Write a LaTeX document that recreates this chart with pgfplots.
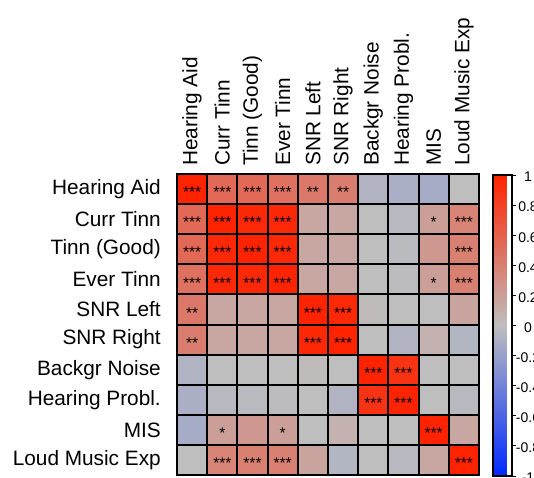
\documentclass[border=0pt]{standalone}
\usepackage{fontspec}
\setmainfont{Liberation Sans}
\usepackage{pgfplots}
\pgfplotsset{compat=1.18}
\pgfplotsset{colormap={corr}{rgb255(0cm)=(0,40,255); rgb255(1cm)=(190,190,190); rgb255(2cm)=(255,35,0)}}
\begin{document}
\begin{tikzpicture}
\begin{axis}[
  at={(177pt,2pt)}, anchor=south west,
  scale only axis, width=302pt, height=301pt,
  xmin=-0.5, xmax=9.5, ymin=-0.5, ymax=9.5,
  y dir=reverse,
  xtick={0,...,9}, ytick={0,...,9},
  xticklabels={Hearing Aid,Curr Tinn,Tinn (Good),Ever Tinn,SNR Left,SNR Right,Backgr Noise,Hearing Probl.,MIS,Loud Music Exp},
  yticklabels={Hearing Aid,Curr Tinn,Tinn (Good),Ever Tinn,SNR Left,SNR Right,Backgr Noise,Hearing Probl.,MIS,Loud Music Exp},
  xticklabel pos=top,
  xticklabel style={rotate=90, anchor=west, inner sep=0pt},
  yticklabel style={anchor=east, inner sep=0pt},
  xticklabel shift=8pt, yticklabel shift=16pt,
  tick label style={font=\fontsize{20.8}{24}\selectfont},
  major tick length=0pt, minor tick length=0pt,
  minor xtick={-0.5,0.5,1.5,2.5,3.5,4.5,5.5,6.5,7.5,8.5,9.5},
  minor ytick={-0.5,0.5,1.5,2.5,3.5,4.5,5.5,6.5,7.5,8.5,9.5},
  xminorgrids, yminorgrids,
  minor grid style={black, line width=2pt},
  axis line style={black, line width=2pt},
  axis on top,
  colormap name=corr, point meta min=-1, point meta max=1,
  colorbar,
  colorbar style={
    scale only axis,
    width=19.5pt,
    at={(parent axis.north east)}, anchor=north west, xshift=5pt, yshift=-1pt,
    ytick={-1,-0.8,-0.6,-0.4,-0.2,0,0.2,0.4,0.6,0.8,1},
    ytick pos=right, yticklabel pos=right,
    tick align=outside,
    major tick length=4pt,
    major tick style={black, line width=1pt},
    axis line style={black, line width=2pt},
    /pgf/number format/assume math mode=true,
    yticklabel style={font=\fontsize{14}{16}\selectfont, anchor=center, inner sep=0pt, xshift=12pt, yshift=-2pt},
  },
]
\addplot[matrix plot*, mesh/cols=10, point meta=explicit] coordinates {
(0,0)[1] (1,0)[0.55] (2,0)[0.55] (3,0)[0.5] (4,0)[0.45] (5,0)[0.42] (6,0)[-0.07] (7,0)[-0.1] (8,0)[-0.12] (9,0)[0]
(0,1)[0.55] (1,1)[1] (2,1)[0.97] (3,1)[0.97] (4,1)[0.15] (5,1)[0.15] (6,1)[0] (7,1)[-0.03] (8,1)[0.2] (9,1)[0.38]
(0,2)[0.55] (1,2)[0.97] (2,2)[1] (3,2)[0.97] (4,2)[0.15] (5,2)[0.15] (6,2)[0] (7,2)[-0.02] (8,2)[0.25] (9,2)[0.4]
(0,3)[0.5] (1,3)[0.97] (2,3)[0.97] (3,3)[1] (4,3)[0.15] (5,3)[0.15] (6,3)[0] (7,3)[-0.01] (8,3)[0.2] (9,3)[0.4]
(0,4)[0.45] (1,4)[0.15] (2,4)[0.15] (3,4)[0.15] (4,4)[1] (5,4)[0.97] (6,4)[0.02] (7,4)[0] (8,4)[0] (9,4)[0.17]
(0,5)[0.42] (1,5)[0.15] (2,5)[0.15] (3,5)[0.15] (4,5)[0.97] (5,5)[1] (6,5)[0] (7,5)[-0.07] (8,5)[0.08] (9,5)[-0.06]
(0,6)[-0.07] (1,6)[0] (2,6)[0] (3,6)[0] (4,6)[0.02] (5,6)[0] (6,6)[1] (7,6)[0.9] (8,6)[0] (9,6)[0]
(0,7)[-0.1] (1,7)[-0.03] (2,7)[-0.02] (3,7)[-0.01] (4,7)[0] (5,7)[-0.07] (6,7)[0.9] (7,7)[1] (8,7)[0] (9,7)[-0.03]
(0,8)[-0.12] (1,8)[0.2] (2,8)[0.25] (3,8)[0.2] (4,8)[0] (5,8)[0.08] (6,8)[0] (7,8)[0] (8,8)[1] (9,8)[0.15]
(0,9)[0] (1,9)[0.38] (2,9)[0.4] (3,9)[0.4] (4,9)[0.17] (5,9)[-0.06] (6,9)[0] (7,9)[-0.03] (8,9)[0.15] (9,9)[1]
};
\addplot[only marks, mark=none, nodes near coords, point meta=explicit symbolic,
  nodes near coords style={anchor=center, inner sep=0pt, yshift=-3.4pt, font=\fontsize{15.5}{17}\selectfont, text=black}]
  table[meta=s] {
x y s
0 0 ***
1 0 ***
2 0 ***
3 0 ***
4 0 **
5 0 **
0 1 ***
1 1 ***
2 1 ***
3 1 ***
8 1 *
9 1 ***
0 2 ***
1 2 ***
2 2 ***
3 2 ***
9 2 ***
0 3 ***
1 3 ***
2 3 ***
3 3 ***
8 3 *
9 3 ***
0 4 **
4 4 ***
5 4 ***
0 5 **
4 5 ***
5 5 ***
6 6 ***
7 6 ***
6 7 ***
7 7 ***
1 8 *
3 8 *
8 8 ***
1 9 ***
2 9 ***
3 9 ***
9 9 ***
};
\end{axis}
\pgfresetboundingbox
\path[use as bounding box] (0,0) rectangle (534pt,477pt);
\end{tikzpicture}
\end{document}
